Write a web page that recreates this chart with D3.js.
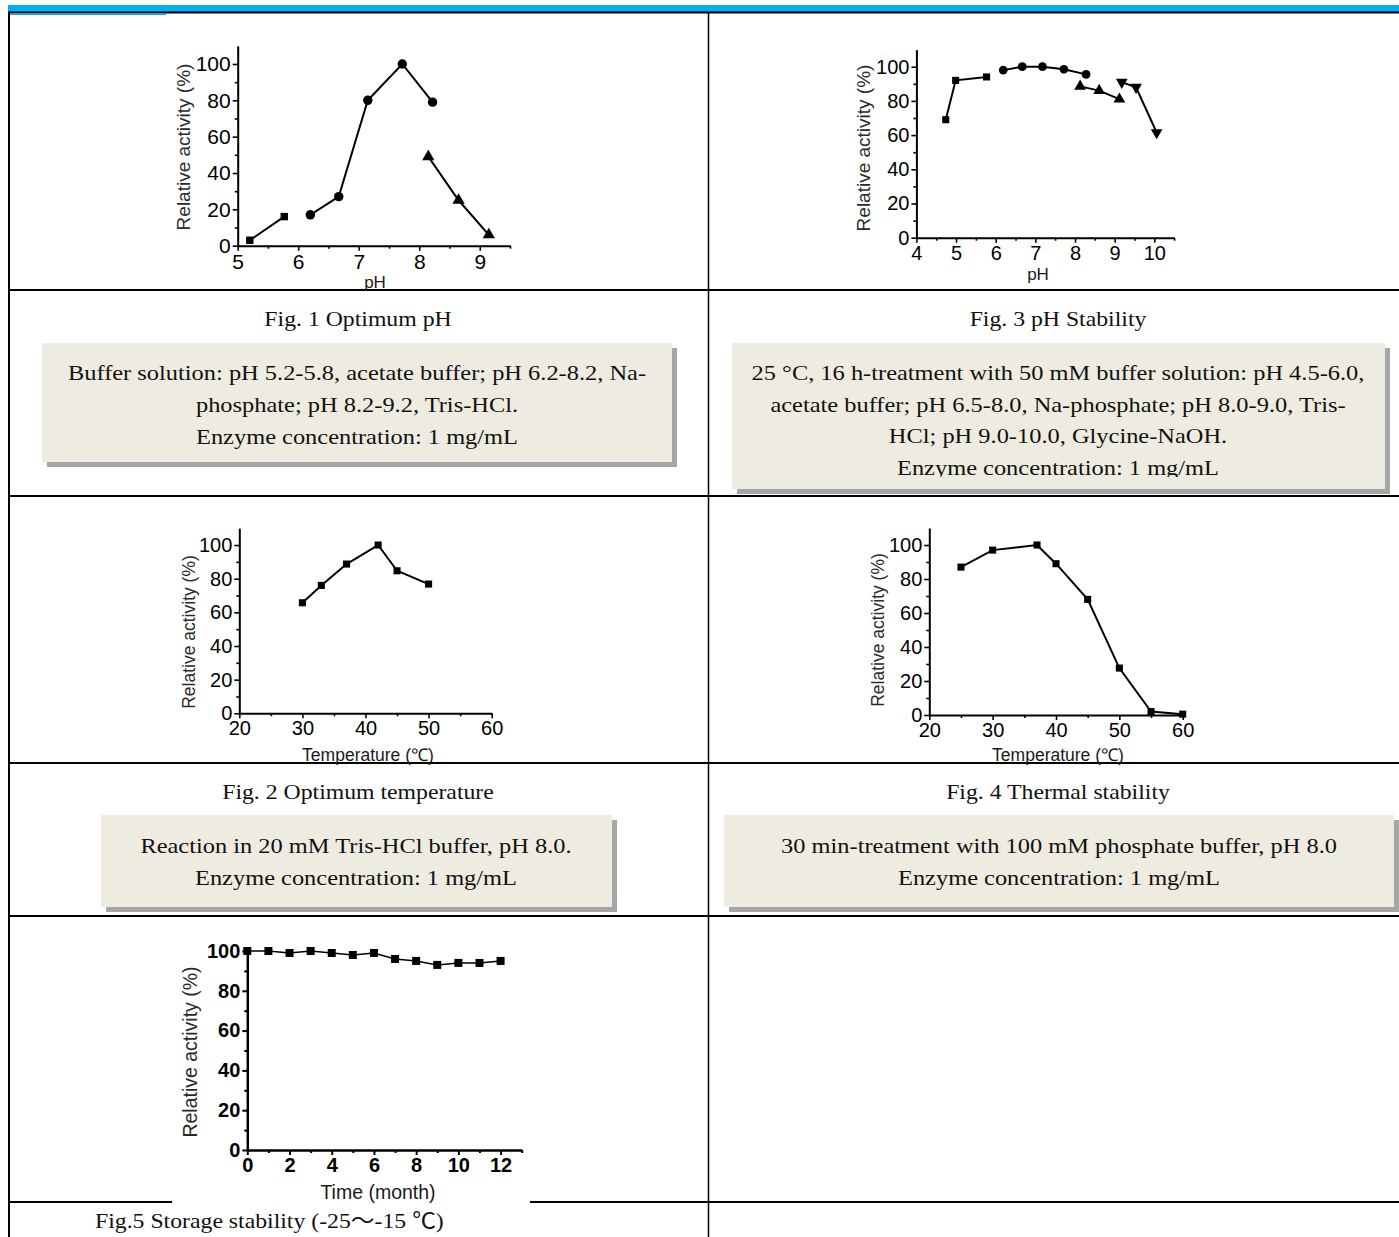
<!DOCTYPE html>
<html><head><meta charset="utf-8">
<script src="https://cdn.jsdelivr.net/npm/d3@7/dist/d3.min.js"></script>
<style>
html,body{margin:0;padding:0;background:#fff;}
svg{display:block;}
</style></head>
<body>
<svg id="page" width="1399" height="1237"></svg>
<script>
// ---------- DATA ----------
// Fig. 1 Optimum pH
const fig1Squares   = [[5.2,3],[5.77,16]];
const fig1Circles   = [[6.2,17],[6.67,27],[7.15,80],[7.72,100],[8.22,79]];
const fig1Triangles = [[8.15,49],[8.65,25],[9.15,6]];
// Fig. 3 pH stability
const fig3Squares       = [[4.74,69],[4.99,92],[5.77,94]];
const fig3Circles       = [[6.19,98],[6.67,100],[7.18,100],[7.72,98.5],[8.28,95.5]];
const fig3Triangles     = [[8.13,88.5],[8.61,86],[9.12,81]];
const fig3DownTriangles = [[9.18,91],[9.54,88],[10.06,61.5]];
// Fig. 2 Optimum temperature
const fig2Temp     = [30,33,37,42,45,50];
const fig2Activity = [65.7,76,88.7,100,84.7,76.8];
// Fig. 4 Thermal stability
const fig4Temp     = [25,30,37,40,45,50,55,60];
const fig4Activity = [87,97,100,89,68,27.6,2,0.5];
// Fig. 5 Storage stability
const fig5Months   = [0,1,2,3,4,5,6,7,8,9,10,11,12];
const fig5Activity = [100,100,99,100,99,98,99,96,95,93,94,94,95];
// Tick labels
const yTicks      = [0,20,40,60,80,100];
const yMinor      = [10,30,50,70,90];
const fig1XTicks  = [5,6,7,8,9];
const fig1XMinor  = [5.5,6.5,7.5,8.5,9.5];
const fig3XTicks  = [4,5,6,7,8,9,10];
const fig3XMinor  = [4.5,5.5,6.5,7.5,8.5,9.5,10.5];
const tempXTicks  = [20,30,40,50,60];
const tempXMinor  = [25,35,45,55];
const fig5XTicks  = [0,2,4,6,8,10,12];
const fig5XMinor  = [1,3,5,7,9,11,13];

// Texts
const captions = [
  {t:"Fig. 1 Optimum pH", x:358, y:326, a:"middle"},
  {t:"Fig. 3 pH Stability", x:1058, y:326, a:"middle"},
  {t:"Fig. 2 Optimum temperature", x:358, y:799, a:"middle"},
  {t:"Fig. 4 Thermal stability", x:1058, y:799, a:"middle"},
  {t:"Fig.5 Storage stability (-25～-15 ℃)", x:95, y:1228, a:"start"}
];
const box1Lines = ["Buffer solution: pH 5.2-5.8, acetate buffer; pH 6.2-8.2, Na-","phosphate; pH 8.2-9.2, Tris-HCl.","Enzyme concentration: 1 mg/mL"];
const box3Lines = ["25 °C, 16 h-treatment with 50 mM buffer solution: pH 4.5-6.0,","acetate buffer; pH 6.5-8.0, Na-phosphate; pH 8.0-9.0, Tris-","HCl; pH 9.0-10.0, Glycine-NaOH.","Enzyme concentration: 1 mg/mL"];
const box2Lines = ["Reaction in 20 mM Tris-HCl buffer, pH 8.0.","Enzyme concentration: 1 mg/mL"];
const box4Lines = ["30 min-treatment with 100 mM phosphate buffer, pH 8.0","Enzyme concentration: 1 mg/mL"];

// ---------- PAGE FRAME ----------
const svg = d3.select("#page");
const serif = "'Liberation Serif','Times New Roman','Noto Sans CJK SC',serif";
const sans = "'Liberation Sans',Arial,sans-serif";

svg.append("rect").attr("x",8).attr("y",5).attr("width",1391).attr("height",7).attr("fill","#00b0f0");
svg.append("line").attr("x1",8).attr("x2",1399).attr("y1",12.5).attr("y2",12.5).attr("stroke","#000").attr("stroke-width",2);
svg.append("rect").attr("x",10).attr("y",13.5).attr("width",156).attr("height",1.5).attr("fill","#00b0f0");
// grid
svg.append("line").attr("x1",9).attr("x2",9).attr("y1",12).attr("y2",1237).attr("stroke","#000").attr("stroke-width",2);
svg.append("line").attr("x1",708.5).attr("x2",708.5).attr("y1",12).attr("y2",1237).attr("stroke","#000").attr("stroke-width",1.5);
[290,496,763,916,1202].forEach(yy=>{
  svg.append("line").attr("x1",8).attr("x2",1399).attr("y1",yy).attr("y2",yy).attr("stroke","#000").attr("stroke-width",2);
});

// ---------- CAPTIONS ----------
captions.forEach(c=>{
  svg.append("text").attr("transform",`translate(${c.x},${c.y}) scale(1.08,1)`).attr("text-anchor",c.a)
    .attr("font-family",serif).attr("font-size",22).attr("fill","#111").text(c.t);
});

// ---------- BOXES ----------
function box(x,y,w,h,cx,lines,y0,step,clipBottom){
  const id = "clip"+Math.round(x)+"_"+Math.round(y);
  svg.append("rect").attr("x",x+5).attr("y",y+5).attr("width",w).attr("height",h).attr("fill","#a6a6a6");
  svg.append("rect").attr("x",x).attr("y",y).attr("width",w).attr("height",h).attr("fill","#eeece1");
  svg.append("clipPath").attr("id",id).append("rect").attr("x",x).attr("y",y).attr("width",w).attr("height",(clipBottom||y+h)-y);
  const g = svg.append("g").attr("clip-path",`url(#${id})`);
  lines.forEach((l,i)=>{
    g.append("text").attr("transform",`translate(${cx},${y0+i*step}) scale(1.11,1)`).attr("text-anchor","middle")
      .attr("font-family",serif).attr("font-size",22).attr("fill","#111").text(l);
  });
}
box(42,343,630,119,357,box1Lines,380,32);
box(732,343,653,146,1058,box3Lines,380,31.7,477);
box(101,815,511,92,356,box2Lines,853,32);
box(724,815,670,92,1059,box4Lines,853,32);

// ---------- CHARTS ----------
function symbolPath(type,size){
  if(type==="down") return d3.symbol().type(d3.symbolTriangle).size(size)();
  const t = {square:d3.symbolSquare,circle:d3.symbolCircle,triangle:d3.symbolTriangle}[type];
  return d3.symbol().type(t).size(size)();
}
function chart(o){
  const g = svg.append("g");
  if(o.bg) g.append("rect").attr("x",o.bg[0]).attr("y",o.bg[1]).attr("width",o.bg[2]).attr("height",o.bg[3]).attr("fill","#fff");
  const x = d3.scaleLinear().domain(o.xd).range(o.xr);
  const y = d3.scaleLinear().domain(o.yd).range(o.yr);
  const sw = o.axisW||2;
  const fmt = d3.format("~g");
  // minor ticks
  const mx = g.append("g").attr("transform",`translate(0,${o.yr[0]})`)
    .call(d3.axisBottom(x).tickValues(o.xminor).tickSize(3).tickFormat("").tickSizeOuter(0));
  mx.select(".domain").remove();
  const my = g.append("g").attr("transform",`translate(${o.xr[0]},0)`)
    .call(d3.axisLeft(y).tickValues(yMinor).tickSize(3).tickFormat("").tickSizeOuter(0));
  my.select(".domain").remove();
  // major
  const ax = g.append("g").attr("transform",`translate(0,${o.yr[0]})`)
    .call(d3.axisBottom(x).tickValues(o.xticks).tickFormat(fmt).tickSize(5).tickPadding(o.xpad||3).tickSizeOuter(0));
  const ay = g.append("g").attr("transform",`translate(${o.xr[0]},0)`)
    .call(d3.axisLeft(y).tickValues(yTicks).tickFormat(fmt).tickSize(5).tickPadding(2).tickSizeOuter(0));
  [ax,ay,mx,my].forEach(a=>{
    a.selectAll("line").attr("stroke","#000").attr("stroke-width",sw*0.8);
    a.selectAll(".domain").attr("stroke","#000").attr("stroke-width",sw);
    a.selectAll("text").attr("font-family",sans).attr("font-size",o.fs).attr("fill","#000")
      .attr("font-weight",o.bold?"bold":"normal");
  });
  // series
  o.series.forEach(s=>{
    const pts = s.data;
    g.append("path").attr("d",d3.line().x(d=>x(d[0])).y(d=>y(d[1]))(pts))
      .attr("fill","none").attr("stroke","#000").attr("stroke-width",o.lw||2);
    g.selectAll(null).data(pts).enter().append("path")
      .attr("d",symbolPath(s.sym,s.size||55))
      .attr("transform",d=>`translate(${x(d[0])},${y(d[1])})${s.sym==="down"?" rotate(180)":""}`)
      .attr("fill","#000");
  });
  // labels
  g.append("text").attr("transform",`translate(${o.ylab[0]},${o.ylab[1]}) rotate(-90)`)
    .attr("text-anchor","middle").attr("font-family",sans).attr("font-size",o.lfs)
    .attr("fill","#2a2a2a").text("Relative activity (%)");
  g.append("text").attr("x",o.xlab[0]).attr("y",o.xlab[1]).attr("text-anchor","middle")
    .attr("font-family",sans).attr("font-size",o.xlfs||o.lfs).attr("fill","#1a1a1a").text(o.xtitle);
}

const zip = (a,b)=>a.map((v,i)=>[v,b[i]]);

chart({xd:[5,9.5], xr:[237.7,510], yd:[0,110], yr:[245.7,45.8], xticks:fig1XTicks, xminor:fig1XMinor,
  fs:21, lfs:19, xlfs:17, ylab:[190,147], xlab:[375,288], xtitle:"pH",
  series:[{data:fig1Squares,sym:"square",size:55},{data:fig1Circles,sym:"circle",size:70},{data:fig1Triangles,sym:"triangle",size:65}]});

chart({xd:[4,10.5], xr:[916.4,1174.1], yd:[0,110], yr:[237.7,49.6], xticks:fig3XTicks, xminor:fig3XMinor,
  fs:20, lfs:19, xlfs:17, ylab:[870,148], xlab:[1038,280], xtitle:"pH",
  series:[{data:fig3Squares,sym:"square",size:50},{data:fig3Circles,sym:"circle",size:60},{data:fig3Triangles,sym:"triangle",size:60},{data:fig3DownTriangles,sym:"down",size:60}]});

chart({xd:[20,60], xr:[239.3,491.7], yd:[0,110], yr:[713.3,528.2], xticks:tempXTicks, xminor:tempXMinor,
  fs:20, lfs:17.5, xlfs:17.5, ylab:[195,632], xlab:[368,761], xtitle:"Temperature (℃)",
  series:[{data:zip(fig2Temp,fig2Activity),sym:"square",size:50}]});

chart({xd:[20,60], xr:[929.3,1182.7], yd:[0,110], yr:[715,528], xticks:tempXTicks, xminor:tempXMinor,
  fs:20, lfs:17.5, xlfs:17.5, ylab:[884,630], xlab:[1058,761], xtitle:"Temperature (℃)",
  series:[{data:zip(fig4Temp,fig4Activity),sym:"square",size:50}]});

chart({bg:[172,922,358,284], xd:[0,13], xr:[247.3,521.7], yd:[0,102], yr:[1150,947], xticks:fig5XTicks, xminor:fig5XMinor,
  fs:20, bold:true, axisW:2.5, lw:1.5, lfs:19.5, xlfs:19.5, ylab:[197,1052], xlab:[378,1199], xtitle:"Time (month)",
  series:[{data:zip(fig5Months,fig5Activity),sym:"square",size:64}]});
</script>
</body></html>
